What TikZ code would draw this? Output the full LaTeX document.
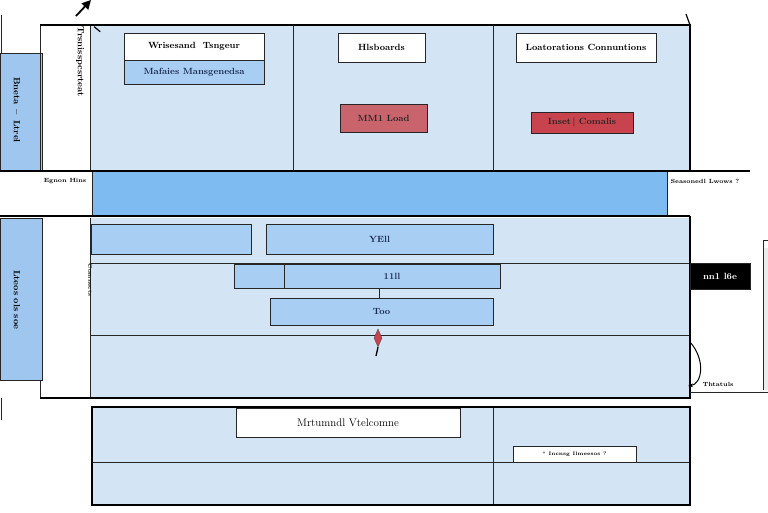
\documentclass[tikz,border=0pt]{standalone}
\usetikzlibrary{shapes.geometric,arrows.meta}
\definecolor{pale}{HTML}{D3E5F5}
\definecolor{midb}{HTML}{A9CEF4}
\definecolor{band}{HTML}{7DBBF1}
\definecolor{strip}{HTML}{9FC6EE}
\definecolor{rosered}{HTML}{C9636C}
\definecolor{brick}{HTML}{C8434D}
\definecolor{navy}{HTML}{1A2A50}
\begin{document}
\begin{tikzpicture}[x=1pt,y=-1pt,
  bx/.style={draw=black!85, line width=0.9pt, inner sep=0pt, font=\fontsize{9}{10}\selectfont\bfseries},
  whitebox/.style={bx, fill=white},
  bluebox/.style={bx, fill=midb, text=navy},
  redbox/.style={bx, text=black!85},
  thickline/.style={line width=2.6pt, black},
  thinline/.style={line width=0.7pt, black!85},
  sidelabel/.style={font=\fontsize{6}{7}\selectfont\bfseries, inner sep=0pt},
  striplabel/.style={font=\fontsize{9}{10}\selectfont\bfseries, inner sep=0pt, rotate=-90}]
\useasboundingbox (0,0) rectangle (768,512);

% ---------- top section ----------
\fill[pale] (90,25) rectangle (690,170);
\fill[strip] (0,53) rectangle (42,170);
\draw[thinline] (0,53) rectangle (42,170);
\draw[thinline] (1,15) -- (1,53);
\draw[thinline] (40,25) -- (40,170);
\draw[thinline] (90,25) -- (90,170);
\draw[thinline] (293,25) -- (293,170);
\draw[thinline] (493,25) -- (493,170);
\draw[thickline] (40,25) -- (690,25) -- (690,171);
\draw[line width=1.2pt] (690,25) -- (686,14);
\draw[thickline] (0,171) -- (750,171);

\coordinate (arrS) at (76,16);
\coordinate (arrE) at (91,0);
\draw[line width=1.8pt, -{Triangle[length=9pt,width=9pt]}] (arrS) -- (arrE);
\node[striplabel] (vtop) at (80,62) {Trsnisspcsrteat};
\node[striplabel] (stripT) at (17,110) {Bneta \,--\, Ltrel};

\node[whitebox, minimum width=140, minimum height=27] (wt) at (194,46.5) {Wrisesand\ \ Tsngeur};
\node[bluebox, minimum width=140, minimum height=24] (mm) at (194,72) {Mafaies Mansgenedsa};
\node[whitebox, minimum width=87, minimum height=29] (hb) at (381.5,47.5) {Hlsboards};
\node[redbox, fill=rosered, minimum width=87, minimum height=28] (ml) at (383.5,118) {MM1 Load};
\node[whitebox, minimum width=140, minimum height=29] (lc) at (586,47.5) {Loatorations Connuntions};
\node[redbox, fill=brick, minimum width=102, minimum height=21] (ic) at (582,122.5) {Inset\,| Comalis};
\draw[line width=1.2pt] (vtop.north west) ++(10,0) coordinate (tk) -- ++(6,5);

% ---------- middle band ----------
\fill[band] (92,172) rectangle (667,215);
\draw[thinline] (92,172) -- (92,215);
\draw[thinline] (667,172) -- (667,215);
\node[sidelabel] (lbL) at (65,181) {Egnon Hins};
\node[sidelabel] (lbR) at (705,181) {Seasonedl Lwows ?};
\draw[thickline] (0,216) -- (690,216);

% ---------- lower section ----------
\fill[pale] (90,218) rectangle (690,398);
\fill[strip] (0,218) rectangle (42,380);
\draw[thinline] (0,218) rectangle (42,380);
\draw[thinline] (40,380) -- (40,398);
\draw[thinline] (90,218) -- (90,398);
\draw[thinline] (90,263) -- (690,263);
\draw[thinline] (90,335) -- (690,335);
\draw[thickline] (690,216) -- (690,399);
\draw[thickline] (40,398) -- (690,398);
\draw[thinline] (690,392) -- (768,392);
\fill[black!8] (764,248) rectangle (768,390);
\draw[thinline] (763,240) -- (763,390);
\draw[thinline] (763,240) -- (768,240);
\draw[thinline] (1,398) -- (1,420);
\node[striplabel] (stripB) at (17,300) {Lteos ols soe};
\node[font=\fontsize{5}{6}\selectfont\bfseries, inner sep=0pt, rotate=-90] (vlow) at (90,280) {Comnects};

\node[bluebox, minimum width=160, minimum height=30] (b1) at (171,239) {};
\node[bluebox, minimum width=227, minimum height=30] (b2) at (379.5,239) {YEll};
\node[bluebox, minimum width=50, minimum height=24] (b3) at (259,276) {};
\node[bluebox, minimum width=216, minimum height=24] (b4) at (392,276) {11ll};
\node[bluebox, minimum width=223, minimum height=27] (b5) at (381.5,311.5) {Too};
\draw[thinline] (b4.south -| b5.north) ++(-2,0) coordinate (c1) -- (c1 |- b5.north);
\node[diamond, draw=black!70, fill=brick, minimum width=8, minimum height=18, inner sep=0pt] (dm) at (378,338) {};
\coordinate (dmEnd) at (376,356);
\draw[line width=1.3pt] (dm.south) -- (dmEnd);

\node[bx, fill=black, text=white, minimum width=60, minimum height=26] (blk) at (720,276) {nn1 l6e};
\coordinate (crvS) at (690,342);
\coordinate (crvE) at (688,386);
\draw[line width=1pt, -{Stealth[length=5pt]}] (crvS) .. controls (706,360) and (702,384) .. (crvE);
\node[sidelabel] (tl) at (718,384) {Thtatuls};

% ---------- bottom section ----------
\fill[pale] (92,407) rectangle (690,505);
\draw[thinline] (493,407) -- (493,505);
\draw[thinline] (92,462) -- (690,462);
\draw[line width=2pt] (92,407) rectangle (690,505);
\node[whitebox, minimum width=224, minimum height=29, font=\fontsize{11}{12}\selectfont] (mv) at (348,422.5) {Mrtumndl Vtelcomne};
\node[whitebox, minimum width=123, minimum height=16, font=\fontsize{5}{6}\selectfont\bfseries] (ig) at (574.5,454) {`` Incnsg Ilmeesos ?};
\end{tikzpicture}
\end{document}
